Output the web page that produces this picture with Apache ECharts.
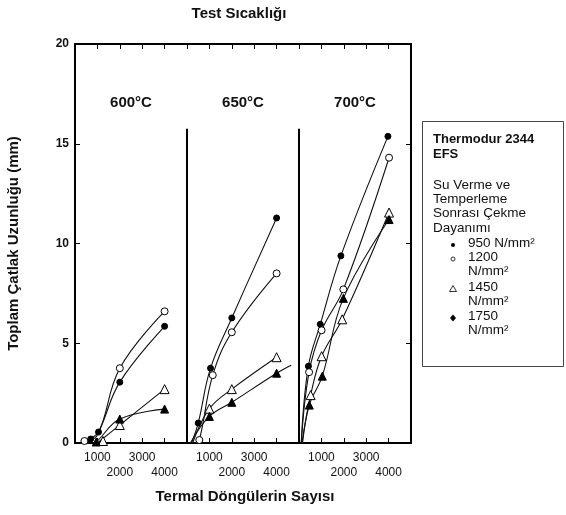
<!DOCTYPE html>
<html>
<head>
<meta charset="utf-8">
<script src="https://cdn.jsdelivr.net/npm/echarts@6/dist/echarts.min.js"></script>
<style>html,body{margin:0;padding:0;background:#fff}#c{width:566px;height:515px}</style>
</head>
<body>
<div id="c"></div>
<script>
// Panels (test temperatures)
const panels = ['600°C', '650°C', '700°C'];
const xTicks = [1000, 2000, 3000, 4000];
const yTicks = [0, 5, 10, 15, 20];
const seriesNames = ['950 N/mm²', '1200 N/mm²', '1450 N/mm²', '1750 N/mm²'];

// Measured points [cycles, crack length mm] per panel, per series (950, 1200, 1450, 1750)
const p600_950  = [[700, 0.2], [1050, 0.55], [2000, 3.05], [4000, 5.85]];
const p600_1200 = [[420, 0.1], [2000, 3.75], [4000, 6.6]];
const p600_1450 = [[1250, 0.1], [2000, 0.9], [4000, 2.7]];
const p600_1750 = [[950, 0.05], [2000, 1.2], [4000, 1.7]];

const p650_950  = [[500, 1.0], [1050, 3.75], [2000, 6.27], [4000, 11.28]];
const p650_1200 = [[550, 0.15], [1150, 3.4], [2000, 5.55], [4000, 8.5]];
const p650_1450 = [[1000, 1.72], [2000, 2.7], [4000, 4.3]];
const p650_1750 = [[1000, 1.33], [2000, 2.04], [4000, 3.5]];

const p700_950  = [[420, 3.85], [950, 5.95], [1870, 9.38], [3970, 15.37]];
const p700_1200 = [[450, 3.55], [1010, 5.65], [1980, 7.7], [4020, 14.3]];
const p700_1450 = [[520, 2.4], [1010, 4.35], [1930, 6.2], [4020, 11.55]];
const p700_1750 = [[460, 1.9], [1040, 3.35], [1980, 7.25], [4020, 11.2]];

// Fitted curves (start at the axis, pass through the measured points)
const c600_950  = [[600, 0], ...p600_950];
const c600_1200 = [[300, 0], [1000, 0.4], ...p600_1200.slice(1)];
const c600_1450 = [[1000, 0], ...p600_1450.slice(1)];
const c600_1750 = [[800, 0], ...p600_1750];

const c650_950  = [[200, 0], ...p650_950];
const c650_1200 = [[350, 0], ...p650_1200];
const c650_1450 = [[250, 0], ...p650_1450];
const c650_1750 = [[150, 0], ...p650_1750, [4650, 3.9]];

const c700_950  = [[100, 0], ...p700_950];
const c700_1200 = [[100, 0], ...p700_1200];
const c700_1450 = [[130, 0], ...p700_1450];
const c700_1750 = [[160, 0], ...p700_1750];

const points = [
  [p600_950, p600_1200, p600_1450, p600_1750],
  [p650_950, p650_1200, p650_1450, p650_1750],
  [p700_950, p700_1200, p700_1450, p700_1750]
];
const curves = [
  [c600_950, c600_1200, c600_1450, c600_1750],
  [c650_950, c650_1200, c650_1450, c650_1750],
  [c700_950, c700_1200, c700_1450, c700_1750]
];
const dividerTop = 15.75;

const FONT = 'Liberation Sans, Arial, sans-serif';
const markers = [
  {symbol: 'circle', size: 6, fill: '#000'},
  {symbol: 'circle', size: 7, fill: '#fff'},
  {symbol: 'triangle', size: 9, fill: '#fff'},
  {symbol: 'triangle', size: 8, fill: '#000'}
];

const chart = echarts.init(document.getElementById('c'), null, {renderer: 'canvas'});

const grids = [], xAxes = [], yAxes = [], series = [];
panels.forEach((p, i) => {
  grids.push({left: 75 + 112 * i, width: 112, top: 44, height: 399});
  xAxes.push({
    type: 'value', gridIndex: i, min: 0, max: 5000, interval: 1000, position: 'bottom',
    axisLine: {show: true, onZero: false, lineStyle: {color: '#000', width: 2}},
    axisTick: {show: true, inside: true, length: 5, lineStyle: {color: '#000', width: 1}},
    axisLabel: {
      show: true, margin: 7, fontFamily: FONT, fontSize: 12, color: '#111', lineHeight: 15,
      formatter: v => (v === 1000 || v === 3000) ? String(v) : (v === 2000 || v === 4000) ? '\n' + v : ''
    },
    splitLine: {show: false}
  });
  xAxes.push({
    type: 'value', gridIndex: i, min: 0, max: 5000, interval: 1000, position: 'top',
    axisLine: {show: true, onZero: false, lineStyle: {color: '#000', width: 2}},
    axisTick: {show: true, inside: true, length: 5, lineStyle: {color: '#000', width: 1}},
    axisLabel: {show: false}, splitLine: {show: false}
  });
  yAxes.push({
    type: 'value', gridIndex: i, min: 0, max: 20, interval: 5,
    position: i === 2 ? 'right' : 'left',
    show: i !== 1,
    name: i === 0 ? 'Toplam Çatlak Uzunluğu (mm)' : '',
    nameLocation: 'middle', nameGap: 54, nameRotate: 90,
    nameTextStyle: {fontFamily: FONT, fontSize: 15, fontWeight: 'bold', color: '#111'},
    axisLine: {show: i !== 1, onZero: false, lineStyle: {color: '#000', width: 2}},
    axisTick: {show: true, inside: true, length: 5, lineStyle: {color: '#000', width: 1}},
    axisLabel: {show: i === 0, margin: 6, fontFamily: FONT, fontSize: 12, fontWeight: 'bold', color: '#111'},
    splitLine: {show: false}
  });
  for (let s = 0; s < 4; s++) {
    const curve = {
      type: 'line', xAxisIndex: 2 * i, yAxisIndex: i, data: curves[i][s],
      smooth: 0.4, showSymbol: false, silent: true,
      lineStyle: {color: '#111', width: 1.1}
    };
    if (s === 0 && i > 0) {
      curve.markLine = {
        silent: true, symbol: 'none', label: {show: false},
        lineStyle: {color: '#000', width: 2, type: 'solid'},
        data: [[{coord: [0, 0]}, {coord: [0, dividerTop]}]]
      };
    }
    series.push(curve);
    series.push({
      type: 'scatter', name: seriesNames[s], xAxisIndex: 2 * i, yAxisIndex: i, data: points[i][s],
      symbol: markers[s].symbol, symbolSize: markers[s].size,
      itemStyle: {color: markers[s].fill, borderColor: '#000', borderWidth: 1, opacity: 1},
      z: 5
    });
  }
});

const graphic = [
  {type: 'text', x: 239, y: 14, style: {text: 'Test Sıcaklığı', font: 'bold 15px ' + FONT, fill: '#111', align: 'center', verticalAlign: 'middle'}},
  {type: 'text', x: 245, y: 497, style: {text: 'Termal Döngülerin Sayısı', font: 'bold 15px ' + FONT, fill: '#111', align: 'center', verticalAlign: 'middle'}},
  {type: 'text', x: 131, y: 103, style: {text: panels[0], font: 'bold 15px ' + FONT, fill: '#111', align: 'center', verticalAlign: 'middle'}},
  {type: 'text', x: 243, y: 103, style: {text: panels[1], font: 'bold 15px ' + FONT, fill: '#111', align: 'center', verticalAlign: 'middle'}},
  {type: 'text', x: 355, y: 103, style: {text: panels[2], font: 'bold 15px ' + FONT, fill: '#111', align: 'center', verticalAlign: 'middle'}},
  {type: 'rect', shape: {x: 422.5, y: 121.5, width: 141, height: 245}, style: {fill: '#fff', stroke: '#444', lineWidth: 1}},
  {type: 'text', x: 433, y: 132, style: {text: 'Thermodur 2344\nEFS', font: 'bold 13px ' + FONT, fill: '#111', lineHeight: 15}},
  {type: 'text', x: 433, y: 178, style: {text: 'Su Verme ve\nTemperleme\nSonrası Çekme\nDayanımı', font: '13.5px ' + FONT, fill: '#111', lineHeight: 14.3}},
  {type: 'text', x: 468, y: 236, style: {text: '950 N/mm²', font: '13.5px ' + FONT, fill: '#111'}},
  {type: 'text', x: 468, y: 250, style: {text: '1200\nN/mm²', font: '13.5px ' + FONT, fill: '#111', lineHeight: 14.5}},
  {type: 'text', x: 468, y: 280, style: {text: '1450\nN/mm²', font: '13.5px ' + FONT, fill: '#111', lineHeight: 14.5}},
  {type: 'text', x: 468, y: 309, style: {text: '1750\nN/mm²', font: '13.5px ' + FONT, fill: '#111', lineHeight: 14.5}},
  {type: 'circle', shape: {cx: 453, cy: 245, r: 2}, style: {fill: '#000'}},
  {type: 'circle', shape: {cx: 453, cy: 259, r: 2}, style: {fill: '#fff', stroke: '#333', lineWidth: 1}},
  {type: 'polygon', shape: {points: [[453, 285.5], [449.5, 291.5], [456.5, 291.5]]}, style: {fill: '#fff', stroke: '#333', lineWidth: 1}},
  {type: 'polygon', shape: {points: [[453, 314.5], [456, 318], [453, 321.5], [450, 318]]}, style: {fill: '#000'}}
];

chart.setOption({
  animation: false,
  backgroundColor: '#fff',
  grid: grids, xAxis: xAxes, yAxis: yAxes, series: series, graphic: graphic
});
</script>
</body>
</html>
